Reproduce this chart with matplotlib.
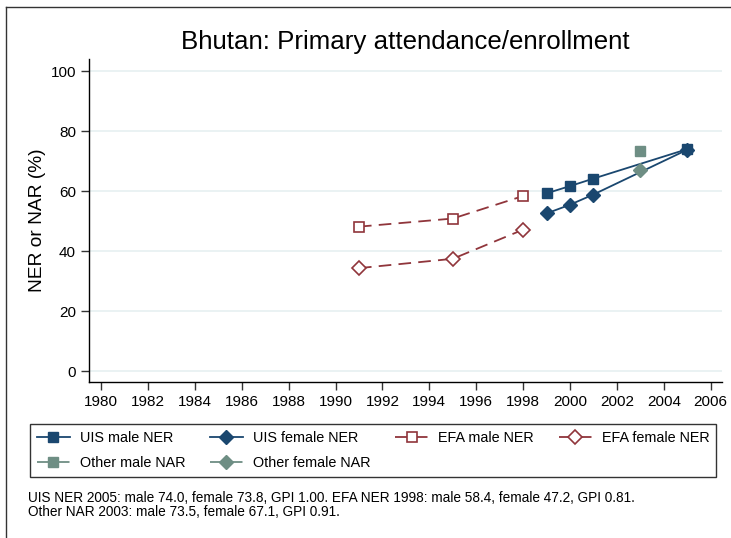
import matplotlib
matplotlib.use("Agg")
import matplotlib.pyplot as plt
from matplotlib.lines import Line2D

plt.rcParams['font.family'] = ['Liberation Sans', 'DejaVu Sans']

# Data
uis_years = [1999, 2000, 2001, 2005]
uis_male = [59.3, 61.7, 64.2, 74.0]
uis_female = [52.6, 55.5, 58.9, 73.8]
efa_years = [1991, 1995, 1998]
efa_male = [48.2, 50.9, 58.4]
efa_female = [34.4, 37.5, 47.2]
other_years = [2003]
other_male = [73.5]
other_female = [67.1]

x_ticks = list(range(1980, 2007, 2))
y_ticks = [0, 20, 40, 60, 80, 100]

title = "Bhutan: Primary attendance/enrollment"
ylabel = "NER or NAR (%)"
note = ("UIS NER 2005: male 74.0, female 73.8, GPI 1.00. EFA NER 1998: male 58.4, female 47.2, GPI 0.81.\n"
        "Other NAR 2003: male 73.5, female 67.1, GPI 0.91.")

navy = "#1a476f"
maroon = "#90353b"
teal = "#6e8e84"
grid = "#eaf2f3"

W, H = 731, 538
fig = plt.figure(figsize=(W / 100, H / 100), dpi=100)
ax = fig.add_axes([89.3 / W, 1 - 382 / H, (721.7 - 89.3) / W, (382 - 59) / H])

lw = 1.3
ms = 7.5
h_uism, = ax.plot(uis_years, uis_male, color=navy, lw=lw, marker='s', ms=ms, mec=navy, mfc=navy,
                  label="UIS male NER", zorder=3)
h_uisf, = ax.plot(uis_years, uis_female, color=navy, lw=lw, marker='D', ms=ms, mec=navy, mfc=navy,
                  label="UIS female NER", zorder=3)
h_efam, = ax.plot(efa_years, efa_male, color=maroon, lw=lw, ls=(0, (7, 4)), marker='s', ms=7,
                  mfc='white', mec=maroon, mew=1.2, label="EFA male NER", zorder=3)
h_efaf, = ax.plot(efa_years, efa_female, color=maroon, lw=lw, ls=(0, (7, 4)), marker='D', ms=7,
                  mfc='white', mec=maroon, mew=1.2, label="EFA female NER", zorder=3)
h_othm, = ax.plot(other_years, other_male, color=teal, lw=lw, ls=(0, (7, 4)), marker='s', ms=ms,
                  mfc=teal, mec=teal, label="Other male NAR", zorder=3)
h_othf, = ax.plot(other_years, other_female, color=teal, lw=lw, ls=(0, (7, 4)), marker='D', ms=ms,
                  mfc=teal, mec=teal, label="Other female NAR", zorder=3)

ax.set_xlim(1979.5, 2006.47)
ax.set_ylim(-3.5, 104)
ax.set_xticks(x_ticks)
ax.set_yticks(y_ticks)
ax.tick_params(axis='both', direction='out', length=5.5, width=1, color='#333333',
               labelsize=11, pad=4)
for y in y_ticks:
    ax.axhline(y, color=grid, lw=1.4, zorder=0)
for s in ['top', 'right']:
    ax.spines[s].set_visible(False)
for s in ['left', 'bottom']:
    ax.spines[s].set_linewidth(1.0)
    ax.spines[s].set_color('black')

ax.set_ylabel(ylabel, fontsize=13.8, labelpad=3)
fig.text(405.5 / W, 1 - 42 / H, title, fontsize=18.6, ha='center', va='center')

handles = [h_uism, h_othm, h_uisf, h_othf, h_efam, h_efaf]
leg = fig.legend(handles=handles, labels=[h.get_label() for h in handles], ncol=4,
                 loc='center', bbox_to_anchor=(30 / W, 1 - 480.5 / H, (716 - 30) / W, (480.5 - 420.5) / H),
                 mode='expand', fontsize=10.4, frameon=True, fancybox=False,
                 edgecolor='black', handlelength=2.3, handletextpad=0.7,
                 borderaxespad=0, borderpad=0.45, labelspacing=0.78, columnspacing=1.5)
leg.get_frame().set_linewidth(1.0)

fig.text(28 / W, 1 - 505 / H, note, fontsize=9.77, ha='left', va='center', linespacing=0.95)

# outer border
fig.add_artist(Line2D([6 / W, 1], [1 - 7 / H, 1 - 7 / H], color='#333333', lw=1.0))
fig.add_artist(Line2D([6 / W, 6 / W], [0, 1 - 7 / H], color='#333333', lw=1.0))

fig.savefig("out.png", dpi=100)
